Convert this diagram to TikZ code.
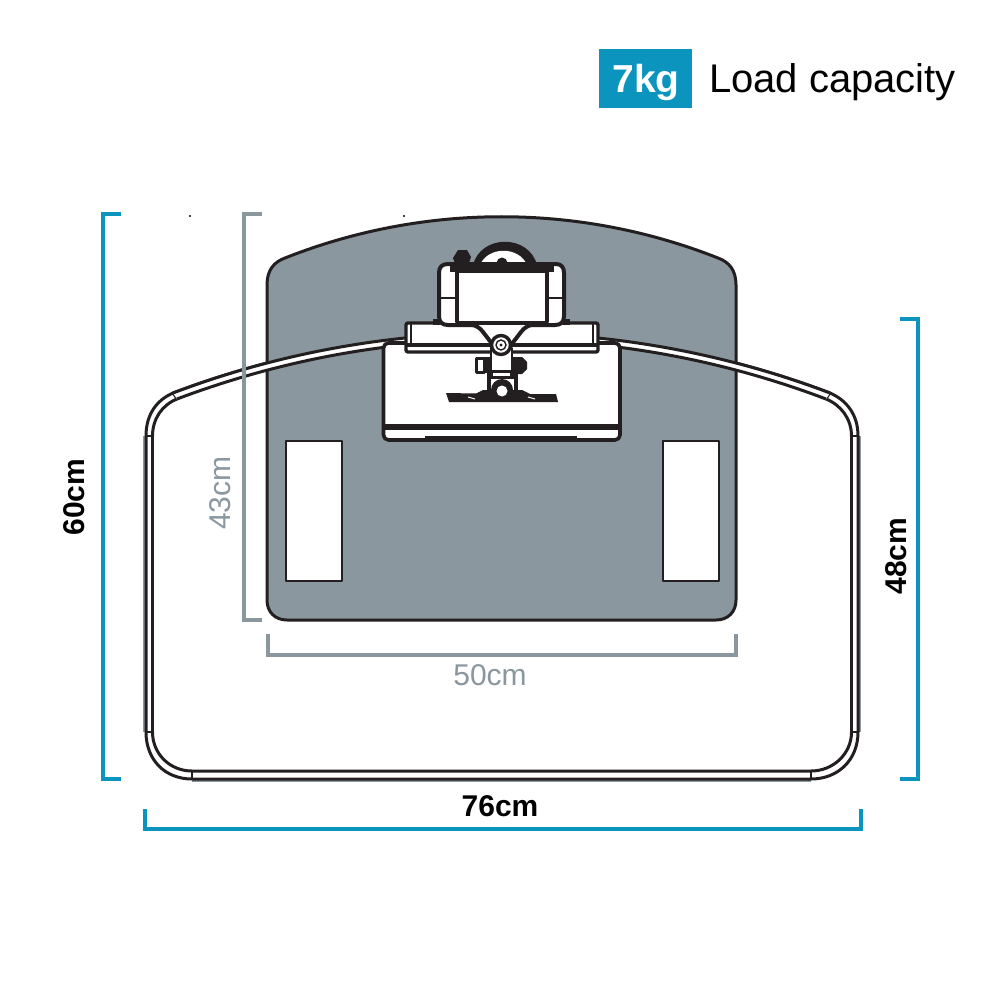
\documentclass[tikz,border=0pt]{standalone}
\usepackage{fontspec}
\setmainfont{Liberation Sans}
\definecolor{teal1}{HTML}{0A94BE}
\definecolor{grey1}{HTML}{8A979F}
\definecolor{ink}{HTML}{231F20}
\tikzset{
  tealdim/.style={draw=teal1,line width=4pt},
  greydim/.style={draw=grey1,line width=4pt},
  desk/.style={draw=ink,line width=3pt,fill=white},
  deskline/.style={draw=ink,line width=3pt},
  deskedge/.style={draw=grey1,line width=1.5pt},
  part/.style={draw=ink,line width=3pt,fill=white,line join=round},
  boldlabel/.style={font=\fontsize{30}{30}\selectfont\bfseries,text=black,inner sep=0pt},
  greylabel/.style={font=\fontsize{30}{30}\selectfont,text=grey1,inner sep=0pt},
}
\begin{document}
\begin{tikzpicture}[x=1pt,y=-1pt]
\useasboundingbox (0,0) rectangle (1000,1000);
% desk top
\draw[deskedge] (144,436) -- (144,732);
\draw[deskedge] (860,436) -- (860,732);
\draw[deskedge] (192,781) -- (811,781);
\draw[desk] (146,436) .. controls (146,414) and (157,400) .. (173,393)
  .. controls (384,313) and (619,313) .. (830,393)
  .. controls (846,400) and (858,414) .. (858,436)
  -- (858,732) .. controls (858,760) and (838,779) .. (811,779)
  -- (192,779) .. controls (165,779) and (146,760) .. (146,732) -- cycle;
\draw[deskline] (152.5,436) .. controls (152.5,419) and (162,405) .. (177,399);
\draw[deskline] (851.5,436) .. controls (851.5,419) and (841,405) .. (826,399);
\draw[deskline] (152.5,732) .. controls (152.5,754) and (170,771) .. (192,771) -- (811,771)
  .. controls (833,771) and (851.5,754) .. (851.5,732);
\draw[deskline] (152.5,436) -- (152.5,732);
\draw[deskline] (851.5,436) -- (851.5,732);
\draw[deskline,line width=2.4pt] (146,436) -- (152.5,436);
\draw[deskline,line width=2.4pt] (851.5,436) -- (858,436);
\draw[deskline,line width=2.4pt] (146,732) -- (152.5,732);
\draw[deskline,line width=2.4pt] (851.5,732) -- (858,732);
\draw[deskline,line width=2.4pt] (192,771) -- (192,779);
\draw[deskline,line width=2.4pt] (811,771) -- (811,779);
\draw[deskline,line width=2.4pt] (173,393) -- (177,399);
\draw[deskline,line width=2.4pt] (830,393) -- (826,399);
% shelf
\draw[draw=ink,line width=3pt,fill=grey1] (285,258) .. controls (424,203) and (579,203) .. (718,258)
  .. controls (729,262) and (736,270) .. (736,285) -- (736,600)
  .. controls (736,612) and (728,620) .. (716,620) -- (287,620)
  .. controls (275,620) and (267,612) .. (267,600) -- (267,285)
  .. controls (267,270) and (274,262) .. (285,258) -- cycle;
\draw[part,line width=2.4pt] (286,441) rectangle (342,581);
\draw[part,line width=2.4pt] (663,441) rectangle (719,581);
% band of the desk over the shelf
\fill[white] (173,393) .. controls (384,313) and (619,313) .. (830,393) -- (826,399)
  .. controls (618,320) and (386,320) .. (177,399) -- cycle;
\draw[deskline] (173,393) .. controls (384,313) and (619,313) .. (830,393);
\draw[deskline] (177,399) .. controls (386,320) and (618,320) .. (826,399);
% projector plate
\draw[part,line width=3.6pt,rounded corners=5pt] (383.5,343) rectangle (620,440);
\draw[ink,line width=6pt] (384,426.5) -- (619,426.5);
\draw[ink,line width=3.6pt] (425,438) -- (577,438);
\draw[part,line width=3.4pt,rounded corners=2pt] (406,323) rectangle (598,352);
\draw[ink,line width=4pt] (406,345) -- (598,345);
\draw[ink,line width=1.4pt] (411,323) -- (411,345);
\draw[ink,line width=1.4pt] (593,323) -- (593,345);
% wheel and knob
\fill[ink] (453,258) -- (458,250) -- (467,250) -- (471,257) -- (468,266) -- (456,266) -- cycle;
\fill[ink] (473,265) .. controls (481,234) and (529,234) .. (537,265) -- cycle;
\fill[white] (480,265) .. controls (488,246) and (519,246) .. (527,265) -- cycle;
\fill[ink] (502,263) circle (5.5pt);
% holder
\fill[ink] (433,319) rectangle (440,325);
\fill[ink] (563,319) rectangle (570,325);
\draw[part,line width=4pt] (448,264) -- (556,264) .. controls (561,264) and (564,267) .. (564,273)
  -- (564,316) .. controls (564,322) and (561,325) .. (555,325) -- (533,325)
  .. controls (528,325) and (524,328) .. (521,332) -- (511,345)
  -- (493,345) -- (483,332) .. controls (480,328) and (476,325) .. (471,325)
  -- (448,325) .. controls (442,325) and (439,322) .. (439,316)
  -- (439,273) .. controls (439,267) and (442,264) .. (448,264) -- cycle;
\draw[ink,line width=2.2pt] (439,298) -- (456,298);
\draw[ink,line width=2.2pt] (548,298) -- (564,298);
\fill[ink] (450,264) rectangle (554,272);
\draw[part,line width=3.6pt,rounded corners=1pt] (457,271) rectangle (547,323);
% swivel
\fill[ink] (482,357) rectangle (492,373);
\draw[part] (476,358) rectangle (484,372);
\fill[ink] (508,357) -- (522,357) -- (527,362) -- (527,369) -- (522,374) -- (508,374) -- cycle;
\fill[ink] (487,372) rectangle (518,396);
\fill[white] (491,379) rectangle (514,396);
\draw[part,line width=2.6pt] (491,348) -- (512,348) -- (512,371) -- (491,371) -- cycle;
\fill[white] (493,372.5) rectangle (510,376);
\draw[part,line width=3.4pt] (501,345) circle (9.5pt);
\draw[ink,line width=1.4pt] (501,345) circle (5pt);
\fill[ink] (501,345) circle (1.6pt);
% foot
\fill[ink] (446,393) -- (476,393.5) -- (483,390) -- (522,390) -- (530,394) -- (556,394) -- (558,402) -- (449,402) -- cycle;
\fill[ink] (502,390) circle (11pt);
\fill[white] (502,391) circle (5.5pt);
\draw[white,line width=1pt] (468,397) -- (475,399);
\draw[white,line width=1pt] (528,397) -- (535,399);
% dimensions
\draw[tealdim] (121,214) -- (103,214) -- (103,779) -- (121,779);
\draw[greydim] (262,214) -- (244,214) -- (244,620) -- (262,620);
\draw[greydim] (268,634) -- (268,655) -- (736,655) -- (736,634);
\draw[tealdim] (145,809) -- (145,829) -- (861,829) -- (861,809);
\draw[tealdim] (900,319) -- (918,319) -- (918,779) -- (900,779);
\node[boldlabel,rotate=90] (height) at (74,497) {60cm};
\node[greylabel,rotate=90] (shelfheight) at (220,493) {43cm};
\node[boldlabel,rotate=90] (deskheight) at (896,556) {48cm};
\node[greylabel] (shelfwidth) at (490,675) {50cm};
\node[boldlabel] (width) at (500,806) {76cm};
% specks
\fill[black] (190,216) circle (1.2pt);
\fill[black] (404,216) circle (1.2pt);
% load badge
\fill[teal1] (599,49) rectangle (692,108);
\node[text=white,font=\fontsize{39}{39}\selectfont\bfseries,inner sep=0pt,anchor=base] (badge) at (646,92.5) {7kg};
\node[font=\fontsize{40}{40}\selectfont,text=black,inner sep=0pt,anchor=base] (load) at (832.5,92.5) {Load capacity};
\end{tikzpicture}
\end{document}
